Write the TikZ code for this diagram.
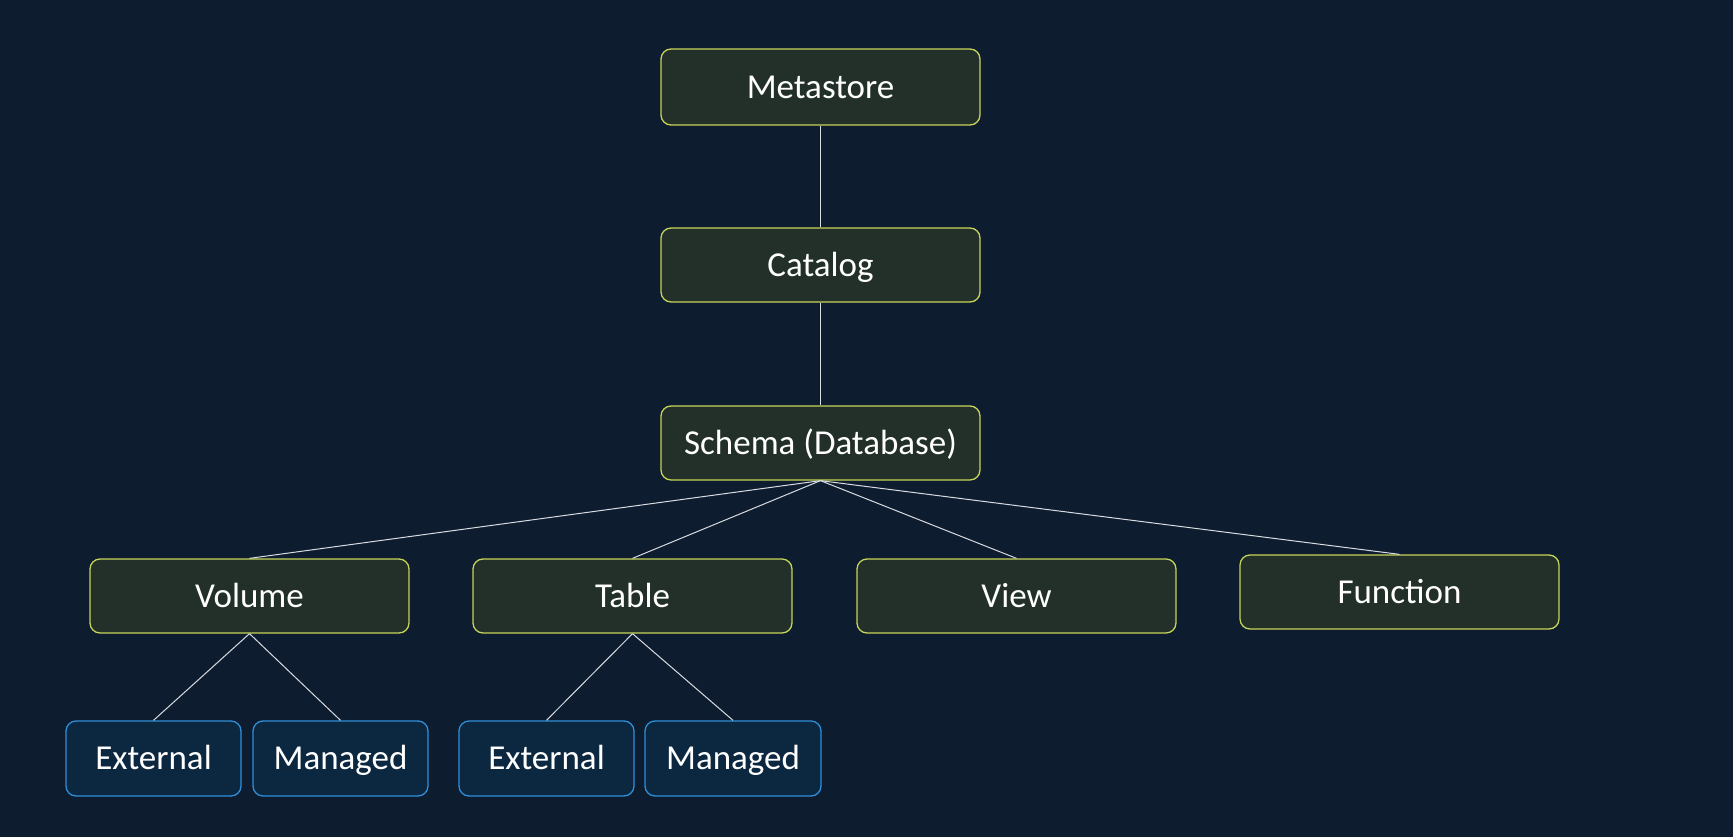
\documentclass[tikz,border=0pt]{standalone}
\usepackage{fontspec}
\setmainfont{Carlito}
\definecolor{bg}{HTML}{0E1C2F}
\definecolor{gfill}{HTML}{233029}
\definecolor{gdraw}{HTML}{C6D45A}
\definecolor{bfill}{HTML}{0C2740}
\definecolor{bdraw}{HTML}{2E8FD8}
\definecolor{lnk}{HTML}{D8DCE0}
\tikzset{
  gbox/.style={draw=gdraw, fill=gfill, line width=1.3pt, rounded corners=10pt,
    minimum width=319pt, minimum height=74pt, inner sep=0pt, text=white,
    font=\fontsize{35}{42}\selectfont, text height=22.5pt, text depth=0pt},
  bbox/.style={gbox, draw=bdraw, fill=bfill, minimum width=175pt, minimum height=75pt},
  link/.style={draw=lnk, line width=1pt}
}
\begin{document}
\begin{tikzpicture}[x=1pt,y=-1pt]
\fill[bg] (0,0) rectangle (1733,837);
\useasboundingbox (0,0) rectangle (1733,837);
\node[gbox, minimum height=76pt] (meta) at (820.5,87) {Metastore};
\node[gbox] (cat) at (820.5,265) {Catalog};
\node[gbox] (sch) at (820.5,443) {Schema (Database)};
\node[gbox] (vol) at (249.5,596) {Volume};
\node[gbox] (tab) at (632.5,596) {Table};
\node[gbox] (view) at (1016.5,596) {View};
\node[gbox] (fun) at (1399.5,592) {Function};
\node[bbox] (ext1) at (153.5,758.5) {External};
\node[bbox] (man1) at (340.5,758.5) {Managed};
\node[bbox] (ext2) at (546.5,758.5) {External};
\node[bbox, minimum width=176pt] (man2) at (733,758.5) {Managed};
\draw[link] (meta.south) -- (cat.north);
\draw[link] (cat.south) -- (sch.north);
\draw[link] (sch.south) -- (vol.north);
\draw[link] (sch.south) -- (tab.north);
\draw[link] (sch.south) -- (view.north);
\draw[link] (sch.south) -- (fun.north);
\draw[link] (vol.south) -- (ext1.north);
\draw[link] (vol.south) -- (man1.north);
\draw[link] (tab.south) -- (ext2.north);
\draw[link] (tab.south) -- (man2.north);
\end{tikzpicture}
\end{document}
